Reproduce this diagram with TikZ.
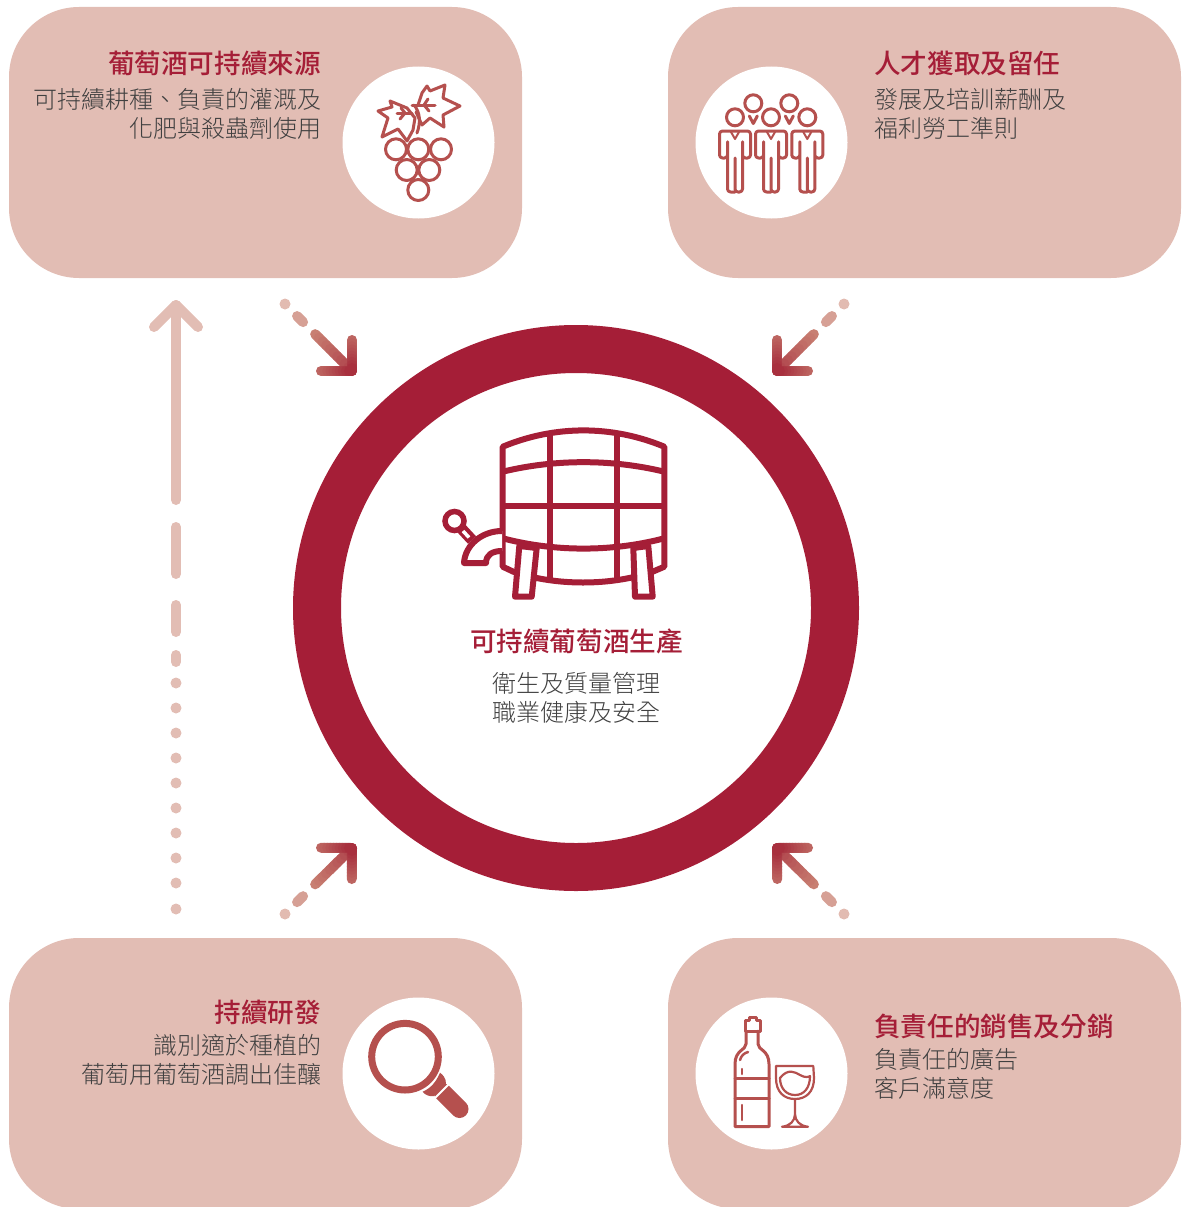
\documentclass[tikz,border=0pt]{standalone}
\usepackage{fontspec}
\newfontfamily\bodyfont{Noto Sans CJK TC Light}
\newfontfamily\titlefont{Noto Sans CJK TC Medium}
\usetikzlibrary{calc}
\definecolor{panelpink}{HTML}{E2BDB4}
\definecolor{ringred}{HTML}{A51E37}
\definecolor{iconred}{HTML}{B5504E}
\definecolor{bodygrey}{HTML}{404040}
\definecolor{arrowpale}{HTML}{E2BBB1}
\definecolor{arrowmid}{HTML}{C87F72}
\definecolor{arrowdark}{HTML}{A52A3A}
\tikzset{
	panel/.style={fill=panelpink,rounded corners=70,minimum width=513,minimum height=271,inner sep=0},
	disc/.style={circle,fill=white,minimum size=152,inner sep=0},
	paneltitle/.style={text=ringred,inner sep=0,font=\titlefont\fontsize{26.6}{30}\selectfont},
	panelbody/.style={text=bodygrey,inner sep=0,font=\bodyfont\fontsize{24}{29}\selectfont},
	iconline/.style={draw=iconred,line width=3,line join=round,line cap=round},
	barrelline/.style={draw=ringred,line width=6,line join=round},
	flowline/.style={line width=10,line cap=round},
}
\newcommand{\flowarrow}[2]{
	\fill[arrowpale] (#1) circle (5.5);
	\draw[flowline,arrowmid!45!arrowpale] ($(#1)!0.18!(#2)$) -- ($(#1)!0.27!(#2)$);
	\foreach \t in {0,...,9}{
		\pgfmathsetmacro\tfrom{0.45+\t*0.055}
		\pgfmathsetmacro\tto{0.45+(\t+1)*0.055}
		\pgfmathsetmacro\pct{\t*7}
		\draw[flowline,arrowdark!\pct!arrowmid] ($(#1)!\tfrom!(#2)$) -- ($(#1)!\tto!(#2)$);
	}
	\foreach \t in {9,8,...,0}{
		\pgfmathsetmacro\tfrom{\t/10}
		\pgfmathsetmacro\tto{(\t+1)/10}
		\pgfmathsetmacro\pct{100-(\t+1)*7}
		\draw[flowline,arrowdark!\pct!arrowmid] ($(#2)!\tfrom*31pt!45:(#1)$) -- ($(#2)!\tto*31pt!45:(#1)$);
		\draw[flowline,arrowdark!\pct!arrowmid] ($(#2)!\tfrom*31pt!-45:(#1)$) -- ($(#2)!\tto*31pt!-45:(#1)$);
	}
}
\begin{document}
\begin{tikzpicture}[x=1pt,y=-1pt]
	\path[use as bounding box,clip] (0,0) rectangle (1181,1207);

	\node[panel] (grapepanel) at (265.5,142.5) {};
	\node[panel] (talentpanel) at (924.5,142.5) {};
	\node[panel] (researchpanel) at (265.5,1073.5) {};
	\node[panel] (salespanel) at (924.5,1073.5) {};
	\node[disc] (grapedisc) at (418.5,142.5) {};
	\node[disc] (talentdisc) at (771.5,142.5) {};
	\node[disc] (researchdisc) at (418.5,1073.5) {};
	\node[disc] (salesdisc) at (771.5,1073.5) {};
	\node[circle,draw=ringred,fill=white,line width=48,minimum size=518,inner sep=0] (ring) at (576,608) {};

	\node[paneltitle,anchor=east] (grapetitle) at (321,63.5) {葡萄酒可持續來源};
	\node[panelbody,anchor=east,align=right] (grapetext) at (322,113.5) {可持續耕種、負責的灌溉及\\化肥與殺蟲劑使用};
	\node[paneltitle,anchor=west] (talenttitle) at (874,63.5) {人才獲取及留任};
	\node[panelbody,anchor=west,align=left] (talenttext) at (874,113.5) {發展及培訓薪酬及\\福利勞工準則};
	\node[paneltitle,anchor=east] (researchtitle) at (321,1012.5) {持續研發};
	\node[panelbody,anchor=east,align=right] (researchtext) at (322,1059.5) {識別適於種植的\\葡萄用葡萄酒調出佳釀};
	\node[paneltitle,anchor=west] (salestitle) at (874,1026.5) {負責任的銷售及分銷};
	\node[panelbody,anchor=west,align=left] (salestext) at (874,1073.5) {負責任的廣告\\客戶滿意度};
	\node[paneltitle] (ringtitle) at (576.5,641.5) {可持續葡萄酒生產};
	\node[panelbody,align=center] (ringtext) at (576,698) {衛生及質量管理\\職業健康及安全};

	\coordinate (grapetail) at (285,304);
	\coordinate (grapehead) at (352,371);
	\coordinate (talenttail) at (844,304);
	\coordinate (talenthead) at (777,371);
	\coordinate (researchtail) at (285,914);
	\coordinate (researchhead) at (352,848);
	\coordinate (salestail) at (844,914);
	\coordinate (saleshead) at (777,848);
	\flowarrow{grapetail}{grapehead}
	\flowarrow{talenttail}{talenthead}
	\flowarrow{researchtail}{researchhead}
	\flowarrow{salestail}{saleshead}

	\coordinate (backtip) at (176,305);
	\coordinate (backneck) at (176,500);
	\draw[flowline,panelpink,line join=round] (154,327) -- (backtip) -- (198,327);
	\draw[flowline,panelpink] (backtip) -- (backneck);
	\draw[flowline,panelpink] (176,527) -- (176,574);
	\draw[flowline,panelpink] (176,605) -- (176,632);
	\draw[flowline,panelpink] (176,655) -- (176,662);
	\foreach \y in {683,708,733,758,783,808,833,858,883,909}{
		\fill[panelpink] (176,\y) circle (5.5);
	}

	% barrel
	\draw[barrelline] (502.7,446.7) .. controls (555,425) and (612,425) .. (664.3,446.7) -- (664.3,566.7) -- (652,572) .. controls (610,586) and (556,586) .. (514,572) -- (502.7,566.7) -- cycle;
	\draw[barrelline] (502.7,471.7) .. controls (555,459) and (612,459) .. (664.3,471.7);
	\draw[barrelline] (502.7,506) -- (664.3,506);
	\draw[barrelline] (502.7,538.3) .. controls (555,552) and (612,552) .. (664.3,538.3);
	\draw[barrelline] (550,433) -- (550,582);
	\draw[barrelline] (617.3,433) -- (617.3,582);
	\draw[barrelline,fill=white] (519.3,546) -- (536.7,548) -- (531.7,596.7) -- (515,596.7) -- cycle;
	\draw[barrelline,fill=white] (633.3,548) -- (648.3,546) -- (652.7,596.7) -- (635,596.7) -- cycle;
	\draw[barrelline,fill=white] (502,531) .. controls (482,531) and (465,545) .. (464,563) -- (486,563) .. controls (486,555) and (492,551) .. (502,551);
	\draw[draw=ringred,line width=5.5] (454.5,521) circle (9.5);
	\draw[draw=ringred,line width=11] (460,527) -- (472,540);
	\draw[draw=white,line width=3.5] (463,531) -- (469,537.5);

	% grapes
	\foreach \x/\y in {396/149.3,418.3/149.3,441/149.3,406.7/170,429.3/170,418.3/190}{
		\draw[iconline] (\x,\y) circle (10.5);
	}
	\draw[iconline] (407,108) -- (390,101) -- (392,107) -- (378,111) -- (388,118) -- (382,137) -- (398,129) -- (407,141) -- (413,130) -- (415,118) -- cycle;
	\draw[iconline] (418,105) -- (422,93) -- (427,86) -- (430,91) -- (445,85) -- (443,98) -- (460,106) -- (443,115) -- (444,127) -- (430,118) -- (422,125) -- (416,112);
	\draw[iconline] (397,113) -- (412,113);
	\draw[iconline] (401,108) -- (405,113) -- (400,119);
	\draw[iconline] (412,105) -- (435,105);
	\draw[iconline] (428,99) -- (424,105) -- (429,111);
	\draw[iconline] (414,105) .. controls (420,112) and (421,122) .. (417,133);

	% people
	\foreach \x in {753.3,789.3}{
		\draw[iconline] (\x,103.3) circle (8.5);
		\draw[iconline] (\x-4,116) -- (\x,123.5) -- (\x+4,116);
	}
	\foreach \x in {735,771,807.3}{
		\draw[iconline] (\x,117.3) circle (8.5);
		\draw[iconline,rounded corners=3] (\x,192) -- (\x-7.5,192) -- (\x-7.5,140) -- (\x-7.5,158) -- (\x-15.5,158) -- (\x-15.5,131) -- (\x+15.5,131) -- (\x+15.5,158) -- (\x+7.5,158) -- (\x+7.5,140) -- (\x+7.5,192) -- (\x,192) -- (\x,158);
		\draw[iconline,line width=2] (\x-4,132) -- (\x,139) -- (\x+4,132);
	}

	% magnifier
	\draw[draw=iconred,line width=7] (405,1056.7) circle (33.3);
	\fill[iconred] (440,1072.7) .. controls (446,1077) and (447,1083) .. (445,1086) -- (434,1096) .. controls (430,1097) and (425,1095) .. (422.7,1091.7) .. controls (431,1088) and (436,1082) .. (440,1072.7) -- cycle;
	\draw[draw=iconred,line width=18,line cap=round] (443,1092.5) -- (459.5,1109);
	\draw[draw=white,line width=2] (434,1099) -- (449,1084);

	% bottle and glass
	\draw[iconline] (749,1017) -- (756,1017) -- (756,1020) -- (760,1020) -- (760,1031) -- (745,1031) -- (745,1020) -- (749,1020) -- cycle;
	\draw[iconline] (746,1031) -- (746,1044) .. controls (746,1050) and (735,1050) .. (735,1064) -- (735,1126.7) -- (769,1126.7) -- (769,1064) .. controls (769,1050) and (758,1050) .. (758,1044) -- (758,1031);
	\draw[iconline] (735,1078.3) -- (769,1078.3);
	\draw[iconline] (735,1098.3) -- (769,1098.3);
	\draw[iconline,line width=2.5] (740,1060) .. controls (741,1056) and (744,1053) .. (748,1052);
	\draw[iconline,line width=2.5] (742,1069) -- (742,1074);
	\draw[iconline,line width=2.5] (742,1105) -- (742,1120);
	\draw[iconline,line width=2.2] (776,1066) -- (813.3,1066) -- (814,1078) .. controls (814,1092) and (806,1099) .. (795,1099) .. controls (784,1099) and (776,1092) .. (776,1078) -- cycle;
	\draw[iconline,line width=2.2] (780,1078) .. controls (788,1068) and (795,1072) .. (800,1075) .. controls (805,1078) and (809,1077) .. (810,1076) .. controls (810,1088) and (804,1095) .. (795,1095) .. controls (786,1095) and (780,1088) .. (780,1078) -- cycle;
	\draw[iconline,line width=2.2] (795,1099) -- (795,1114) .. controls (795,1121) and (790,1126) .. (782,1126.7) -- (808,1126.7) .. controls (800,1126) and (795,1121) .. (795,1114);
\end{tikzpicture}
\end{document}
